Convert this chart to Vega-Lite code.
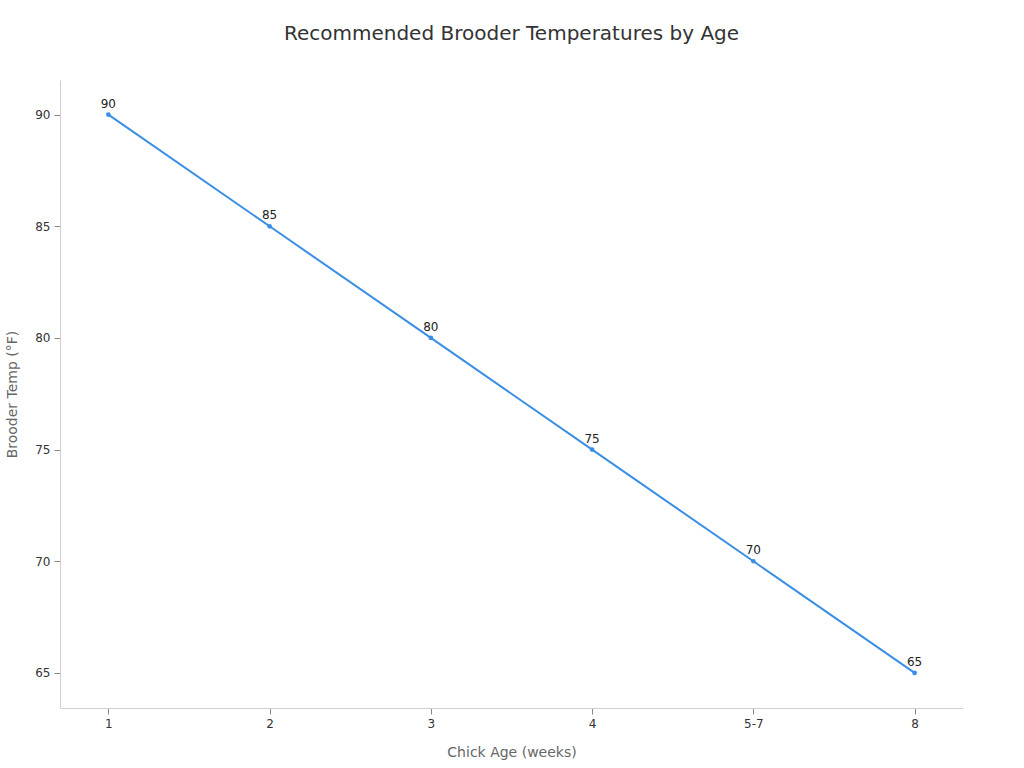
{
  "$schema": "https://vega.github.io/schema/vega-lite/v6.json",
  "autosize": {"type": "none"},
  "width": 903,
  "height": 628,
  "padding": {"left": 60, "top": 80, "right": 61, "bottom": 60},
  "background": "white",
  "title": {
    "text": "Recommended Brooder Temperatures by Age",
    "font": "DejaVu Sans",
    "fontSize": 20,
    "fontWeight": "normal",
    "color": "#333333",
    "anchor": "middle",
    "offset": 36
  },
  "config": {
    "view": {"stroke": null},
    "font": "DejaVu Sans",
    "axis": {
      "grid": false,
      "domainColor": "#d0d0d0",
      "tickColor": "#888888",
      "tickSize": 6,
      "labelColor": "#333333",
      "labelFontSize": 12,
      "labelFont": "DejaVu Sans",
      "titleColor": "#666666",
      "titleFontSize": 14,
      "titleFont": "DejaVu Sans",
      "titleFontWeight": "normal"
    }
  },
  "data": {
    "values": [
      {"age": "1", "temp": 90},
      {"age": "2", "temp": 85},
      {"age": "3", "temp": 80},
      {"age": "4", "temp": 75},
      {"age": "5-7", "temp": 70},
      {"age": "8", "temp": 65}
    ]
  },
  "encoding": {
    "x": {
      "field": "age",
      "type": "ordinal",
      "sort": null,
      "scale": {"type": "point", "padding": 0.3},
      "axis": {"title": "Chick Age (weeks)", "labelAngle": 0, "labelPadding": 4, "titlePadding": 16}
    },
    "y": {
      "field": "temp",
      "type": "quantitative",
      "scale": {"domain": [63.43, 91.55], "nice": false, "zero": false},
      "axis": {"title": "Brooder Temp (°F)", "values": [65, 70, 75, 80, 85, 90], "labelPadding": 4, "titlePadding": 15}
    }
  },
  "layer": [
    {"mark": {"type": "line", "color": "#3a8ee6", "strokeWidth": 2}},
    {"mark": {"type": "point", "filled": true, "color": "#3a8ee6", "size": 22, "opacity": 1}},
    {
      "mark": {"type": "text", "dy": -11, "fontSize": 12, "color": "#222222", "font": "DejaVu Sans"},
      "encoding": {"text": {"field": "temp", "type": "quantitative"}}
    }
  ]
}
